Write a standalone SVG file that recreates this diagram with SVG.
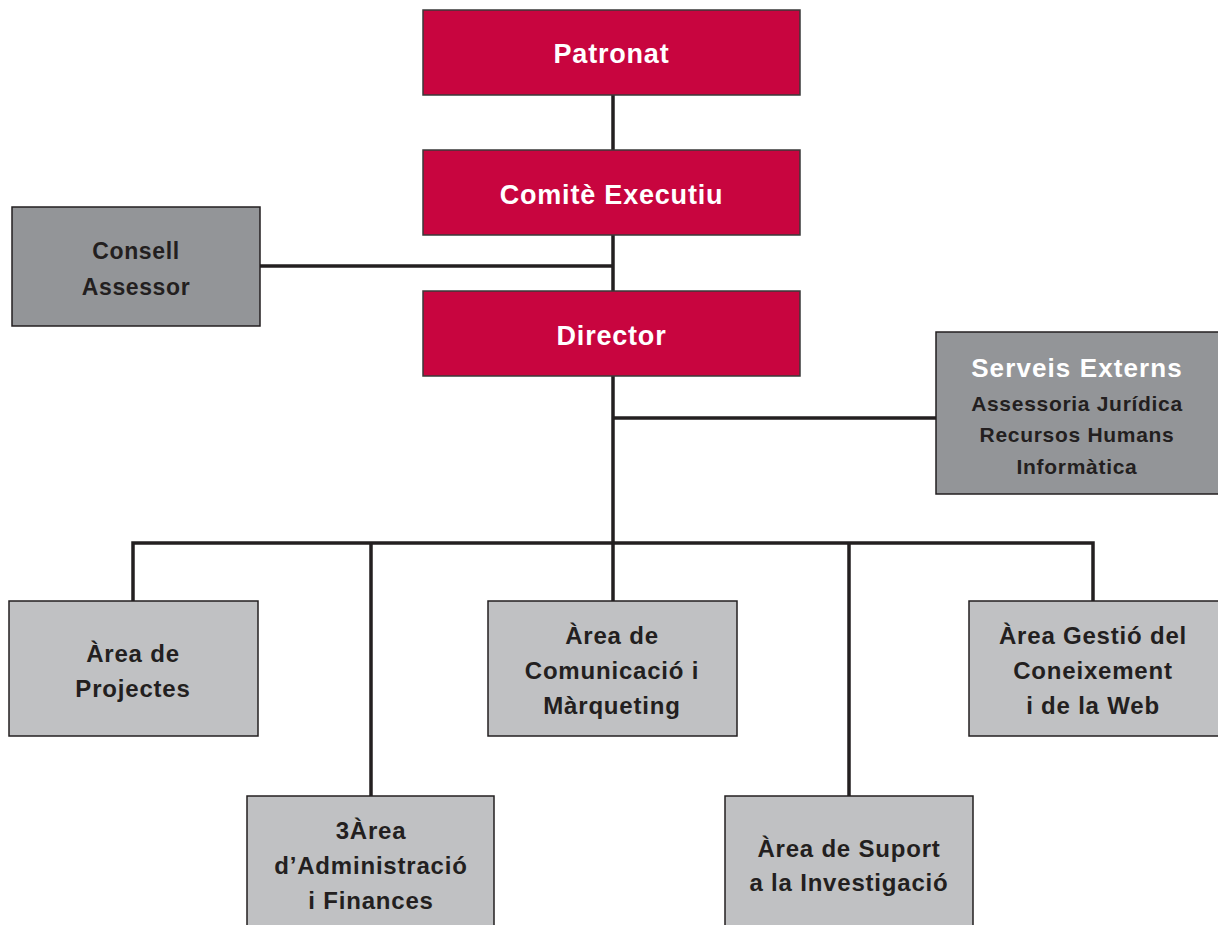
<svg xmlns="http://www.w3.org/2000/svg" width="1218" height="925" viewBox="0 0 1218 925">
<style>
.red{fill:#c8053f;stroke:#3a3a3a;stroke-width:1.5}
.dk{fill:#939598;stroke:#231f20;stroke-width:1.5}
.lt{fill:#c0c1c3;stroke:#231f20;stroke-width:1.5}
text{font-family:"Liberation Sans",Arial,sans-serif;font-weight:bold;text-anchor:middle}
.w{fill:#ffffff;font-size:27px;letter-spacing:0.8px}
.d{fill:#231f20;font-size:23px;letter-spacing:0.6px}
.a{fill:#231f20;font-size:24px;letter-spacing:0.8px}
.s{fill:#231f20;font-size:21px;letter-spacing:0.7px}
.c{fill:none;stroke:#231f20;stroke-width:3.5}
</style>
<rect width="1218" height="925" fill="#ffffff"/>
<g id="connectors">
<path class="c" d="M613 95V543M260 266H613M613 418H936M133 601V543H1093V601M371 543V796M613 543V601M849 543V796"/>
</g>
<g id="patronat"><rect class="red" x="423" y="10" width="377" height="85"/><text class="w" x="611.5" y="63">Patronat</text></g>
<g id="comite"><rect class="red" x="423" y="150" width="377" height="85"/><text class="w" x="611.5" y="204">Comitè Executiu</text></g>
<g id="director"><rect class="red" x="423" y="291" width="377" height="85"/><text class="w" x="611.5" y="345">Director</text></g>
<g id="consell"><rect class="dk" x="12" y="207" width="248" height="119"/><text class="d" x="136" y="259">Consell</text><text class="d" x="136" y="295">Assessor</text></g>
<g id="serveis"><rect class="dk" x="936" y="332" width="284" height="162"/><text class="w" x="1077" y="377" style="font-size:26px;letter-spacing:1.1px">Serveis Externs</text><text class="s" x="1077" y="411">Assessoria Jurídica</text><text class="s" x="1077" y="442">Recursos Humans</text><text class="s" x="1077" y="474">Informàtica</text></g>
<g id="projectes"><rect class="lt" x="9" y="601" width="249" height="135"/><text class="a" x="133" y="662">Àrea de</text><text class="a" x="133" y="697">Projectes</text></g>
<g id="administracio"><rect class="lt" x="247" y="796" width="247" height="135"/><text class="a" x="371" y="839">3Àrea</text><text class="a" x="371" y="874">d’Administració</text><text class="a" x="371" y="909">i Finances</text></g>
<g id="comunicacio"><rect class="lt" x="488" y="601" width="249" height="135"/><text class="a" x="612" y="644">Àrea de</text><text class="a" x="612" y="679">Comunicació i</text><text class="a" x="612" y="714">Màrqueting</text></g>
<g id="suport"><rect class="lt" x="725" y="796" width="248" height="135"/><text class="a" x="849" y="857">Àrea de Suport</text><text class="a" x="849" y="891">a la Investigació</text></g>
<g id="gestio"><rect class="lt" x="969" y="601" width="251" height="135"/><text class="a" x="1093" y="644">Àrea Gestió del</text><text class="a" x="1093" y="679">Coneixement</text><text class="a" x="1093" y="714">i de la Web</text></g>
</svg>
